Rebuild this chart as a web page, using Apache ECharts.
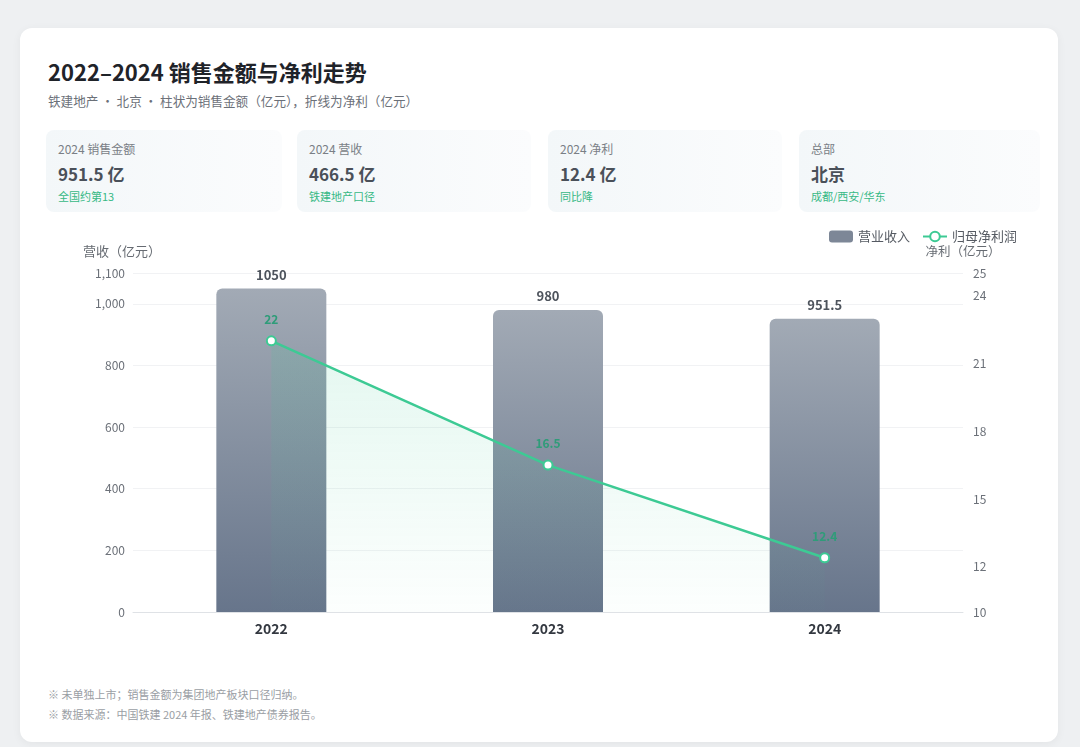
<!DOCTYPE html>
<html>
<head>
<meta charset="utf-8">
<script src="https://cdn.jsdelivr.net/npm/echarts@6/dist/echarts.min.js"></script>
<style>
  html, body { margin: 0; padding: 0; }
  body {
    width: 1080px; height: 747px; background: #eef0f2; position: relative; overflow: hidden;
    font-family: "Noto Sans CJK SC", "Noto Sans", sans-serif;
  }
  .card {
    position: absolute; left: 20px; top: 28px; width: 1038px; height: 714px;
    background: #fff; border-radius: 12px; box-shadow: 0 2px 10px rgba(0,0,0,0.05);
  }
  .title { position: absolute; left: 48px; top: 55px; font-size: 22px; font-weight: 700; color: #1f2329; }
  .sub { position: absolute; left: 48px; top: 91px; font-size: 12.6px; color: #6b7078; }
  .kpi {
    position: absolute; top: 130px; height: 82px; border-radius: 8px;
    background: linear-gradient(90deg, #f3f7f9, #fbfcfd);
  }
  .kpi .k { position: absolute; left: 12px; top: 10px; font-size: 12px; color: #7a7f86; }
  .kpi .v { position: absolute; left: 12px; top: 31px; font-size: 17px; font-weight: 700; color: #4a5059; }
  .kpi .n { position: absolute; left: 12px; top: 58px; font-size: 11px; color: #37b985; }
  .foot { position: absolute; left: 48px; font-size: 11px; color: #9a9ea4; }
  #chart { position: absolute; left: 0; top: 220px; width: 1080px; height: 440px; }
</style>
</head>
<body>
<div class="card"></div>
<div class="title">2022–2024 销售金额与净利走势</div>
<div class="sub">铁建地产 ・ 北京 ・ 柱状为销售金额（亿元），折线为净利（亿元）</div>

<div class="kpi" style="left:46px;width:236px"><div class="k">2024 销售金额</div><div class="v">951.5 亿</div><div class="n">全国约第13</div></div>
<div class="kpi" style="left:297px;width:234px"><div class="k">2024 营收</div><div class="v">466.5 亿</div><div class="n">铁建地产口径</div></div>
<div class="kpi" style="left:548px;width:234px"><div class="k">2024 净利</div><div class="v">12.4 亿</div><div class="n">同比降</div></div>
<div class="kpi" style="left:799px;width:241px"><div class="k">总部</div><div class="v">北京</div><div class="n">成都/西安/华东</div></div>

<div id="chart"></div>

<div class="foot" style="top:686px">※ 未单独上市；销售金额为集团地产板块口径归纳。</div>
<div class="foot" style="top:706px">※ 数据来源：中国铁建 2024 年报、铁建地产债券报告。</div>

<script>
const years = ['2022', '2023', '2024'];
const sales = [1050, 980, 951.5];
const profit = [22, 16.5, 12.4];
const leftTicks = [0, 200, 400, 600, 800, 1000, 1100];
const rightTicks = [10, 12, 15, 18, 21, 24, 25];

const chart = echarts.init(document.getElementById('chart'));
const option = {
  textStyle: { fontFamily: '"Noto Sans CJK SC", "Noto Sans", sans-serif' },
  legend: {
    right: 58, top: 5,
    itemWidth: 24, itemHeight: 12, itemGap: 12,
    textStyle: { fontSize: 13, color: '#555a62' },
    data: [
      { name: '营业收入', icon: 'roundRect', itemStyle: { color: '#7d8797' } },
      { name: '归母净利润' }
    ]
  },
  grid: { left: 133, right: 117, top: 53, bottom: 48 },
  xAxis: {
    type: 'category',
    data: years,
    axisLine: { lineStyle: { color: '#dfe2e6' } },
    axisTick: { show: false },
    axisLabel: { fontSize: 14, fontWeight: 'bold', color: '#333840', margin: 10 }
  },
  yAxis: [
    {
      type: 'value', min: 0, max: 1100,
      name: '营收（亿元）', nameLocation: 'end', nameGap: 15,
      nameTextStyle: { fontSize: 13, color: '#666b72', align: 'center', padding: [0, 22, 0, 0] },
      axisLine: { show: false }, axisTick: { show: false },
      axisLabel: {
        customValues: leftTicks, fontSize: 12, color: '#6b7078', margin: 8,
        formatter: v => v.toLocaleString('en-US')
      },
      splitLine: { show: true, lineStyle: { color: '#f1f2f4' } }
    },
    {
      type: 'value', min: 10, max: 25,
      name: '净利（亿元）', nameLocation: 'end', nameGap: 15,
      nameTextStyle: { fontSize: 12.5, color: '#666b72', align: 'center' },
      axisLine: { show: false }, axisTick: { show: false },
      axisLabel: { customValues: rightTicks, fontSize: 12, color: '#6b7078', margin: 10 },
      splitLine: { show: false }
    }
  ],
  series: [
    {
      name: '营业收入',
      type: 'bar',
      data: sales,
      barWidth: 110,
      itemStyle: {
        borderRadius: [6, 6, 0, 0],
        color: new echarts.graphic.LinearGradient(0, 0, 0, 1, [
          { offset: 0, color: '#a2aab5' },
          { offset: 1, color: '#67758b' }
        ])
      },
      label: {
        show: true, position: 'top', distance: 7,
        fontSize: 13, fontWeight: 'bold', color: '#4d535c'
      }
    },
    {
      name: '归母净利润',
      type: 'line',
      yAxisIndex: 1,
      data: profit,
      symbol: 'circle', symbolSize: 9,
      lineStyle: { color: '#3dca94', width: 2.5 },
      itemStyle: { color: '#ffffff', borderColor: '#3dca94', borderWidth: 2 },
      areaStyle: {
        origin: 'start',
        color: new echarts.graphic.LinearGradient(0, 0, 0, 1, [
          { offset: 0, color: 'rgba(61,202,148,0.2)' },
          { offset: 1, color: 'rgba(61,202,148,0.02)' }
        ])
      },
      label: {
        show: true, position: 'top', distance: 10,
        fontSize: 12, fontWeight: 'bold', color: '#2f9c79'
      },
      z: 5
    }
  ]
};
chart.setOption(option);
</script>
</body>
</html>
